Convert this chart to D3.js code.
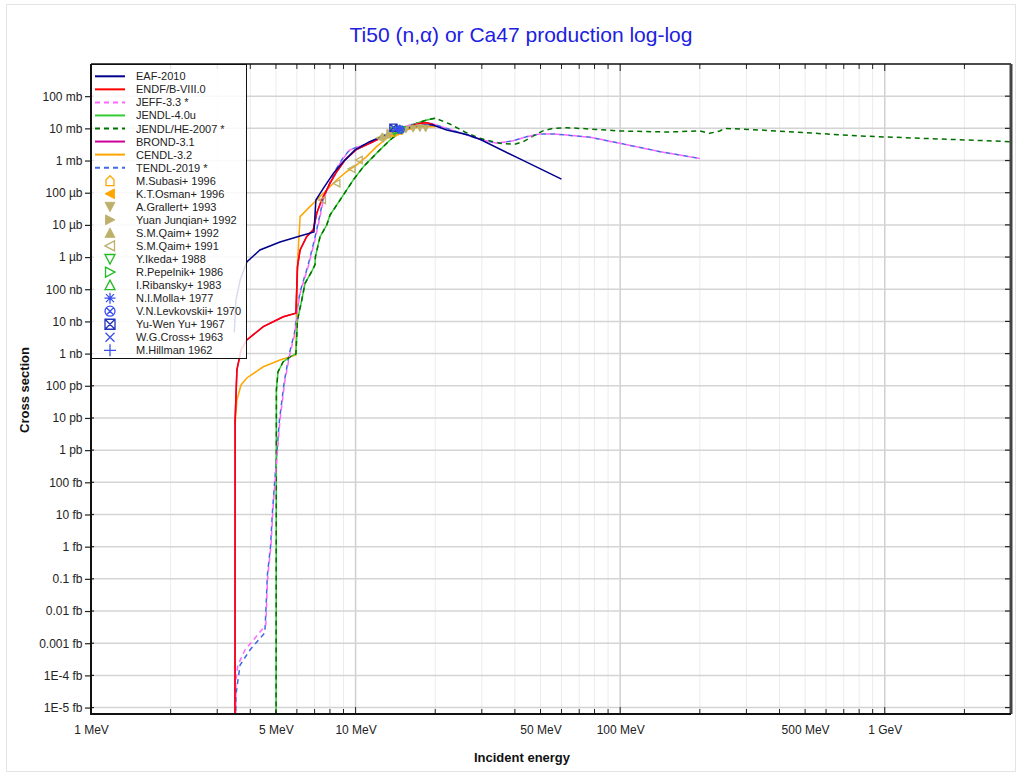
<!DOCTYPE html>
<html><head><meta charset="utf-8">
<script src="https://cdn.jsdelivr.net/npm/d3@7"></script>
<style>
body{margin:0;background:#fff;}
svg text{font-family:"Liberation Sans", Arial, Helvetica, sans-serif;}
</style></head>
<body><svg id="c" width="1020" height="774"></svg>
<script>
// ---------- data (energy in MeV, cross section in barns) ----------
const seriesNames = ["EAF-2010","ENDF/B-VIII.0","JEFF-3.3 *","JENDL-4.0u","JENDL/HE-2007 *","BROND-3.1","CENDL-3.2","TENDL-2019 *"];

const eaf2010 = [[3.48,4.5e-9],[3.53,4.6e-8],[3.66,1.9e-7],[3.88,7.0e-7],[4.35,1.66e-6],[5.18,2.95e-6],[6.17,4.5e-6],[6.96,6.0e-6],[7.08,5.9e-5],[7.55,1.37e-4],[8.24,4.0e-4],[8.98,9.2e-4],[9.95,2.13e-3],[11.3,3.85e-3],[13.5,7.2e-3],[15.6,1.0e-2],[18.0,1.27e-2],[19.6,1.27e-2],[22.1,8.9e-3],[26.3,6.4e-3],[29.5,4.57e-3],[41.8,1.12e-3],[60,2.64e-4]];

const endf8 = [[3.50,1e-25],[3.505,8.7e-12],[3.56,3.1e-10],[3.69,1.3e-9],[3.88,2.65e-9],[4.48,6.9e-9],[5.33,1.4e-8],[5.95,1.79e-8],[6.03,5.0e-7],[6.17,1.66e-6],[6.53,4.3e-6],[6.92,7.0e-6],[7.13,2.3e-5],[7.44,5.9e-5],[7.78,1.22e-4],[8.0,1.96e-4],[8.48,4.5e-4],[9.12,1.04e-3],[10.1,2.24e-3],[11.3,3.43e-3],[12.7,5.5e-3],[14.3,7.9e-3],[16.05,1.13e-2],[17.5,1.44e-2],[18.6,1.49e-2],[19.6,1.3e-2],[20,1.22e-2]];

const jeff33 = [[3.51,1e-25],[3.53,7.2e-20],[3.59,2.1e-19],[3.82,6.2e-19],[4.17,1.45e-18],[4.58,3.7e-18],[4.63,4.5e-17],[4.66,1.3e-16],[4.79,1.1e-15],[4.87,1.4e-14],[5.0,2.4e-13],[5.18,8.7e-12],[5.41,1.5e-10],[5.65,1.0e-9],[5.9,4.3e-9],[6.03,2.3e-8],[6.17,7.5e-8],[6.44,2.45e-7],[6.62,5.0e-7],[7.02,3.4e-6],[7.34,1.8e-5],[7.55,5.9e-5],[8.0,1.96e-4],[8.36,4.5e-4],[8.98,1.17e-3],[9.52,2.13e-3],[10.1,2.58e-3],[11.3,3.43e-3],[12.7,5.5e-3],[14.3,8.9e-3],[16.0,1.27e-2],[18.0,1.5e-2],[19.6,1.37e-2],[22.1,1.0e-2],[26.3,6.2e-3],[29.5,4.6e-3],[34.1,3.43e-3],[39.4,4.1e-3],[44.3,5.5e-3],[49.7,6.7e-3],[55.9,6.7e-3],[62.8,6.2e-3],[76.9,5.3e-3],[99.8,3.43e-3],[141.8,1.88e-3],[200,1.16e-3]];

const jendl40u = [[5.0,1e-25],[5.02,7.4e-11],[5.09,2.7e-10],[5.32,5.5e-10],[5.65,7.9e-10],[5.95,9.8e-10],[6.03,1.1e-8],[6.26,4.6e-8],[6.44,1.53e-7],[6.82,3.5e-7],[7.02,5.7e-7],[7.05,1.03e-6],[7.34,4.3e-6],[7.78,9.9e-6],[8.0,2.0e-5],[8.73,5.9e-5],[9.8,2.5e-4],[10.7,6.4e-4],[12.0,1.68e-3],[13.5,4.35e-3],[15.1,8.9e-3],[17.0,1.44e-2],[18.6,1.82e-2],[20,2.06e-2]];

const jendlhe2007 = [[5.0,1e-25],[5.02,7.4e-11],[5.09,2.7e-10],[5.32,5.5e-10],[5.65,7.9e-10],[5.95,9.8e-10],[6.03,1.1e-8],[6.26,4.6e-8],[6.44,1.53e-7],[6.82,3.5e-7],[7.02,5.7e-7],[7.05,1.03e-6],[7.34,4.3e-6],[7.78,9.9e-6],[8.0,2.0e-5],[8.73,5.9e-5],[9.8,2.5e-4],[10.7,6.4e-4],[12.0,1.68e-3],[13.5,4.35e-3],[15.1,8.9e-3],[17.0,1.44e-2],[18.6,1.82e-2],[20,2.06e-2],[22.7,1.37e-2],[25.9,7.7e-3],[29.5,4.9e-3],[35.1,3.43e-3],[40.0,3.2e-3],[43.0,3.85e-3],[47.6,6.2e-3],[51.2,8.5e-3],[55.9,1.0e-2],[62.8,1.05e-2],[76.9,9.55e-3],[99.8,8.3e-3],[150,7.7e-3],[200,8.3e-3],[218,7.0e-3],[238,8.3e-3],[249,1.0e-2],[338,8.9e-3],[805,5.8e-3],[3000,3.85e-3]];

const brond31 = [[3.50,1e-25],[3.505,8.7e-12],[3.56,3.1e-10],[3.69,1.3e-9],[3.88,2.65e-9],[4.48,6.9e-9],[5.33,1.4e-8],[5.95,1.79e-8],[6.03,5.0e-7],[6.17,1.66e-6],[6.53,4.3e-6],[6.92,7.0e-6],[7.13,2.3e-5],[7.44,5.9e-5],[7.78,1.22e-4],[8.0,1.96e-4],[8.48,4.5e-4],[9.12,1.04e-3],[10.1,2.24e-3],[11.3,3.43e-3],[12.7,5.5e-3],[14.3,7.9e-3],[16.05,1.13e-2],[17.5,1.44e-2],[18.6,1.49e-2],[19.6,1.3e-2],[20,1.22e-2]];

const cendl32 = [[3.505,6e-12],[3.56,3.6e-11],[3.69,1.06e-10],[3.88,1.75e-10],[4.48,3.9e-10],[5.18,6.3e-10],[5.95,9.1e-10],[6.0,4.6e-8],[6.04,8.1e-7],[6.1,3.4e-6],[6.17,1.8e-5],[6.72,3.7e-5],[7.13,5.9e-5],[7.78,1.22e-4],[8.48,2.48e-4],[9.25,4.5e-4],[10.1,7.3e-4],[11.0,1.32e-3],[12.0,2.7e-3],[13.1,4.9e-3],[14.7,7.9e-3],[16.5,1.0e-2],[18.0,1.13e-2],[20,1.13e-2]];

const tendl2019 = [[3.51,1e-25],[3.53,2.5e-20],[3.66,2.1e-19],[3.99,6.2e-19],[4.54,2.1e-18],[4.6,2.2e-17],[4.64,1.3e-16],[4.77,1.0e-15],[4.85,1.2e-14],[4.98,2.2e-13],[5.15,8e-12],[5.38,1.4e-10],[5.62,1.0e-9],[5.88,4.5e-9],[6.02,2.4e-8],[6.16,8.0e-8],[6.43,2.6e-7],[6.6,5.2e-7],[7.0,3.6e-6],[7.32,1.9e-5],[7.53,6.1e-5],[7.98,2.0e-4],[8.34,4.6e-4],[8.96,1.2e-3],[9.5,2.15e-3],[10.1,2.6e-3],[11.3,3.45e-3],[12.7,5.5e-3],[14.3,8.9e-3],[16.0,1.28e-2],[18.0,1.5e-2],[19.6,1.38e-2],[22.1,1.0e-2],[26.3,6.2e-3],[29.5,4.6e-3],[34.1,3.43e-3],[39.4,4.1e-3],[44.3,5.5e-3],[49.7,6.7e-3],[55.9,6.7e-3],[62.8,6.2e-3],[76.9,5.3e-3],[99.8,3.43e-3],[141.8,1.88e-3],[200,1.16e-3]];

const expNames = ["M.Subasi+ 1996","K.T.Osman+ 1996","A.Grallert+ 1993","Yuan Junqian+ 1992","S.M.Qaim+ 1992","S.M.Qaim+ 1991","Y.Ikeda+ 1988","R.Pepelnik+ 1986","I.Ribansky+ 1983","N.I.Molla+ 1977","V.N.Levkovskii+ 1970","Yu-Wen Yu+ 1967","W.G.Cross+ 1963","M.Hillman 1962"];
const subasi1996 = [[13.9,7.6e-3],[14.6,8.6e-3]];
const osman1996 = [[13.5,7.0e-3],[14.1,7.8e-3],[14.7,8.5e-3]];
const grallert1993 = [[15.5,9.2e-3],[16.5,9.8e-3],[17.5,1.02e-2],[18.4,1.0e-2]];
const yuan1992 = [[13.5,7.3e-3],[14.1,8.0e-3],[14.8,8.6e-3]];
const qaim1992 = [[12.6,5.6e-3],[13.2,6.3e-3]];
const qaim1991 = [[7.48,5.9e-5],[8.48,1.96e-4],[9.67,5.5e-4],[10.3,1.04e-3],[12.4,5.0e-3]];
const ikeda1988 = [[14.0,8.2e-3],[14.9,9.0e-3]];
const pepelnik1986 = [[14.6,8.8e-3]];
const ribansky1983 = [[14.7,9.4e-3]];
const molla1977 = [[14.7,9.8e-3]];
const levkovskii1970 = [[14.8,9.1e-3]];
const yuwenyu1967 = [[13.9,1.05e-2]];
const cross1963 = [[14.1,9.6e-3]];
const hillman1962 = [[14.5,9.2e-3]];

const xTickValues = [1,5,10,50,100,500,1000];
const xTickLabels = ["1 MeV","5 MeV","10 MeV","50 MeV","100 MeV","500 MeV","1 GeV"];
const yTickValues = [1e-1,1e-2,1e-3,1e-4,1e-5,1e-6,1e-7,1e-8,1e-9,1e-10,1e-11,1e-12,1e-13,1e-14,1e-15,1e-16,1e-17,1e-18,1e-19,1e-20];
const yTickLabels = ["100 mb","10 mb","1 mb","100 µb","10 µb","1 µb","100 nb","10 nb","1 nb","100 pb","10 pb","1 pb","100 fb","10 fb","1 fb","0.1 fb","0.01 fb","0.001 fb","1E-4 fb","1E-5 fb"];

// ---------- layout ----------
const L = 91, R = 1011, T = 64, B = 714;
const svg = d3.select("#c");
const x = d3.scaleLog().domain([1, 3000]).range([L, R]);
const y = d3.scaleLog().domain([Math.pow(10,-20.2), 1]).range([B, T]);

svg.append("rect").attr("x",6.5).attr("y",4.5).attr("width",1009).attr("height",767)
  .attr("fill","#fff").attr("stroke","#e4e4e4");

// grid
const g = svg.append("g");
const minorX = [], majorX = [1,10,100,1000];
[1,10,100,1000].forEach(d => { for (let k=2;k<=9;k++){ if (d*k<3000) minorX.push(d*k); } });
g.selectAll(".gxm").data(minorX).enter().append("line")
  .attr("x1",d=>x(d)).attr("x2",d=>x(d)).attr("y1",T).attr("y2",B)
  .attr("stroke","#ececec").attr("stroke-width",1);
g.selectAll(".gxM").data(majorX).enter().append("line")
  .attr("x1",d=>x(d)).attr("x2",d=>x(d)).attr("y1",T).attr("y2",B)
  .attr("stroke","#d0d0d0").attr("stroke-width",1.5);
g.selectAll(".gy").data(yTickValues).enter().append("line")
  .attr("x1",L).attr("x2",R).attr("y1",d=>y(d)).attr("y2",d=>y(d))
  .attr("stroke","#d4d4d4").attr("stroke-width",1.5);

// clip
svg.append("clipPath").attr("id","clip").append("rect")
  .attr("x",L).attr("y",T).attr("width",R-L).attr("height",B-T);

const series = [eaf2010, endf8, jeff33, jendl40u, jendlhe2007, brond31, cendl32, tendl2019];
const lineStyle = [
  {c:"#00008b", dash:null, off:0},
  {c:"#ff0000", dash:null, off:0},
  {c:"#ff66ff", dash:"5,4", off:0},
  {c:"#33cc33", dash:null, off:0},
  {c:"#006f00", dash:"5,4", off:0},
  {c:"#cc0099", dash:null, off:0},
  {c:"#ffa500", dash:null, off:0},
  {c:"#4169e1", dash:"5,4", off:4.5}
];
const lineGen = d3.line().x(d=>x(d[0])).y(d=>y(Math.max(d[1],1e-30)));
const curves = svg.append("g").attr("clip-path","url(#clip)");
const order = [7,6,5,3,4,2,1,0];
order.forEach(i => {
  curves.append("path").attr("d", lineGen(series[i]))
    .attr("fill","none").attr("stroke",lineStyle[i].c).attr("stroke-width",1.5)
    .attr("stroke-dasharray",lineStyle[i].dash).attr("stroke-dashoffset",lineStyle[i].off);
});

// markers
const expData = [subasi1996, osman1996, grallert1993, yuan1992, qaim1992, qaim1991, ikeda1988, pepelnik1986, ribansky1983, molla1977, levkovskii1970, yuwenyu1967, cross1963, hillman1962];
const orange = "#ffa500", khaki = "#bdb06a", green = "#22bb22", blue = "#3a4ff0", dblue = "#2233bb";
const mStyle = [
  {s:"house", c:orange, fill:false},
  {s:"left", c:orange, fill:true},
  {s:"down", c:khaki, fill:true},
  {s:"right", c:khaki, fill:true},
  {s:"up", c:khaki, fill:true},
  {s:"left", c:khaki, fill:false},
  {s:"down", c:green, fill:false},
  {s:"right", c:green, fill:false},
  {s:"up", c:green, fill:false},
  {s:"star", c:blue, fill:false},
  {s:"circx", c:blue, fill:false},
  {s:"sqx", c:dblue, fill:false},
  {s:"x", c:blue, fill:false},
  {s:"plus", c:blue, fill:false}
];
function markerPath(s){
  switch(s){
    case "house": return "M-4,5L4,5L4,-1L0,-5L-4,-1Z";
    case "left": return "M-5,0L4.5,-5L4.5,5Z";
    case "right": return "M5,0L-4.5,-5L-4.5,5Z";
    case "up": return "M0,-5L5,4.5L-5,4.5Z";
    case "down": return "M0,5L5,-4.5L-5,-4.5Z";
    case "star": return "M-5.5,0L5.5,0M0,-5.5L0,5.5M-4,-4L4,4M-4,4L4,-4";
    case "circx": return "M5,0A5,5 0 1,1 -5,0A5,5 0 1,1 5,0M-3.5,-3.5L3.5,3.5M-3.5,3.5L3.5,-3.5";
    case "sqx": return "M-5,-5L5,-5L5,5L-5,5ZM-5,-5L5,5M-5,5L5,-5";
    case "x": return "M-4.5,-4.5L4.5,4.5M-4.5,4.5L4.5,-4.5";
    case "plus": return "M-6,0L6,0M0,-6L0,6";
  }
}
function drawMarker(sel, st, sc){
  sel.append("path").attr("d", markerPath(st.s))
    .attr("transform", `scale(${sc})`)
    .attr("fill", st.fill ? st.c : "none")
    .attr("stroke", st.c).attr("stroke-width", (st.fill ? 0.8 : 1.3)/sc);
}
const mk = svg.append("g");
expData.forEach((arr,i) => {
  arr.forEach(d => {
    const gg = mk.append("g").attr("transform",`translate(${x(d[0])},${y(d[1])})`);
    drawMarker(gg, mStyle[i], 0.72);
  });
});

// axes
const axL = svg.append("g").attr("transform",`translate(${L},0)`)
  .call(d3.axisLeft(y).tickValues(yTickValues).tickFormat((d,i)=>yTickLabels[i]).tickSizeInner(6).tickSizeOuter(0).tickPadding(2.5));
const axB = svg.append("g").attr("transform",`translate(0,${B})`)
  .call(d3.axisBottom(x).tickValues(xTickValues).tickFormat((d,i)=>xTickLabels[i]).tickSize(0).tickPadding(11));
[axL, axB].forEach(a => {
  a.select(".domain").remove();
  a.selectAll("text").attr("font-size",12).attr("fill","#222").attr("font-family","Liberation Sans, Arial, sans-serif");
  a.selectAll("line").attr("stroke","#222").attr("stroke-width",1.2);
});
// inner ticks bottom & top
const allX = minorX.concat(majorX);
svg.append("g").selectAll("line").data(allX).enter().append("line")
  .attr("x1",d=>x(d)).attr("x2",d=>x(d)).attr("y1",B).attr("y2",d=>B-(majorX.includes(d)?7:5))
  .attr("stroke","#222").attr("stroke-width",1);
svg.append("g").selectAll("line").data(allX).enter().append("line")
  .attr("x1",d=>x(d)).attr("x2",d=>x(d)).attr("y1",T).attr("y2",d=>T+(majorX.includes(d)?7:5))
  .attr("stroke","#222").attr("stroke-width",1);
svg.append("g").selectAll("line").data(yTickValues).enter().append("line")
  .attr("x1",R).attr("x2",R-6).attr("y1",d=>y(d)).attr("y2",d=>y(d))
  .attr("stroke","#222").attr("stroke-width",1.2);
svg.append("g").selectAll("line").data(yTickValues).enter().append("line")
  .attr("x1",L).attr("x2",L+3).attr("y1",d=>y(d)).attr("y2",d=>y(d))
  .attr("stroke","#222").attr("stroke-width",1.2);

// frame
svg.append("line").attr("x1",L).attr("x2",R).attr("y1",T).attr("y2",T).attr("stroke","#111").attr("stroke-width",1.5);
svg.append("line").attr("x1",R).attr("x2",R).attr("y1",T).attr("y2",B).attr("stroke","#444").attr("stroke-width",3);
svg.append("line").attr("x1",L).attr("x2",R).attr("y1",B).attr("y2",B).attr("stroke","#111").attr("stroke-width",2);
svg.append("line").attr("x1",L).attr("x2",L).attr("y1",T).attr("y2",B+1).attr("stroke","#111").attr("stroke-width",2);

// titles
svg.append("text").attr("x",521).attr("y",42).attr("text-anchor","middle")
  .attr("font-size",21).attr("fill","#2020e0").text("Ti50 (n,α) or Ca47 production log-log");
svg.append("text").attr("x",522).attr("y",762).attr("text-anchor","middle")
  .attr("font-size",13).attr("font-weight","bold").attr("fill","#111").text("Incident energy");
svg.append("text").attr("transform","translate(29,390) rotate(-90)").attr("text-anchor","middle")
  .attr("font-size",13).attr("font-weight","bold").attr("fill","#111").text("Cross section");

// legend
const lg = svg.append("g");
lg.append("rect").attr("x",91.5).attr("y",64.5).attr("width",155).attr("height",294)
  .attr("fill","#fff").attr("fill-opacity",0.86).attr("stroke","#111").attr("stroke-width",1);
const ly0 = 76.3, ldy = 13.05;
seriesNames.forEach((n,i) => {
  const yy = ly0 + i*ldy;
  lg.append("line").attr("x1",95).attr("x2",125).attr("y1",yy).attr("y2",yy)
    .attr("stroke",lineStyle[i].c).attr("stroke-width",2).attr("stroke-dasharray",lineStyle[i].dash);
  lg.append("text").attr("x",136).attr("y",yy+4).attr("font-size",11).attr("fill","#222").text(n);
});
expNames.forEach((n,i) => {
  const yy = ly0 + (i+seriesNames.length)*ldy;
  const gg = lg.append("g").attr("transform",`translate(110,${yy})`);
  drawMarker(gg, mStyle[i], 1);
  lg.append("text").attr("x",136).attr("y",yy+4).attr("font-size",11).attr("fill","#222").text(n);
});
</script></body></html>
